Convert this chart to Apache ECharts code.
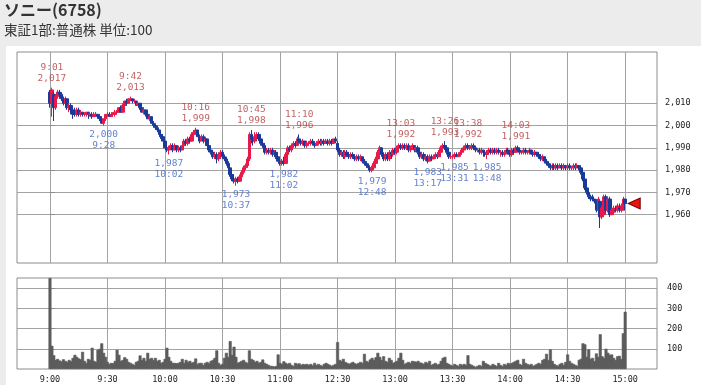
<!DOCTYPE html>
<html><head><meta charset="utf-8">
<script src="https://cdn.jsdelivr.net/npm/echarts@6/dist/echarts.min.js"></script>
<style>
html,body{margin:0;padding:0;background:#ececec;}
#bg{position:absolute;left:6px;top:46px;width:695px;height:339px;background:#fff;}
#c{position:absolute;left:0;top:0;width:701px;height:385px;}
</style>
</head><body><div id="bg"></div><div id="c"></div>
<script>
// ---- data (one entry per minute; index 0 = 9:00, 150 = 12:30, 300 = 15:00) ----
const opens = [2015,2010,2014,2008,2013,2015,2014,2012,2010,2012,2008,2009,2007,2006,2005,2007,2005,2006,2005,2005,2006,2005,2005,2004,2005,2005,2004,2003,2001,2003,
2005,2005,2004,2005,2005,2006,2006,2008,2006,2009,2011,2010,2012,2012,2011,2011,2009,2010,2008,2006,2007,2005,2003,2004,2001,2000,1999,1998,1996,1995,
1993,1990,1989,1990,1991,1989,1991,1989,1990,1989,1991,1993,1992,1994,1993,1996,1997,1998,1995,1993,1995,1993,1994,1991,1989,1988,1986,1987,1985,1987,
1988,1986,1985,1983,1981,1978,1976,1975,1976,1975,1977,1979,1981,1982,1985,1996,1994,1993,1995,1996,1994,1992,1991,1988,1989,1988,1989,1987,1988,1986,
1984,1983,1984,1983,1987,1990,1989,1991,1992,1991,1994,1993,1992,1993,1991,1992,1992,1993,1992,1991,1992,1993,1992,1993,1992,1993,1992,1993,1992,1994,
1992,1989,1987,1988,1986,1988,1987,1986,1987,1986,1985,1986,1985,1986,1984,1983,1982,1981,1980,1981,1983,1985,1988,1990,1987,1985,1987,1985,1988,1987,
1989,1988,1990,1991,1990,1991,1990,1991,1989,1990,1991,1989,1990,1988,1986,1987,1985,1986,1984,1986,1985,1986,1987,1986,1988,1990,1991,1990,1988,1986,
1986,1986,1987,1986,1987,1988,1989,1990,1991,1990,1990,1991,1990,1989,1989,1988,1989,1988,1987,1988,1989,1988,1989,1988,1989,1988,1988,1987,1988,1989,
1988,1987,1989,1988,1990,1989,1988,1988,1989,1988,1988,1989,1988,1987,1988,1987,1986,1985,1986,1984,1983,1982,1981,1982,1981,1982,1981,1982,1981,1982,
1981,1982,1981,1981,1982,1981,1982,1981,1979,1976,1972,1970,1968,1968,1967,1966,1962,1966,1959,1960,1968,1962,1967,1960,1961,1962,1962,1963,1962,1962,
1967];
const closes = [2010,2016,2008,2013,2015,2014,2012,2010,2012,2008,2009,2007,2005,2005,2007,2005,2006,2005,2005,2006,2005,2005,2004,2005,2005,2004,2003,2001,2003,2005,
2005,2004,2005,2005,2006,2006,2008,2006,2009,2011,2010,2012,2012,2011,2011,2009,2010,2008,2006,2007,2005,2003,2004,2001,2000,1999,1998,1996,1995,1993,
1990,1989,1990,1991,1989,1991,1989,1990,1989,1991,1993,1992,1994,1993,1996,1997,1998,1995,1993,1995,1993,1994,1991,1989,1988,1986,1987,1985,1987,1988,
1986,1985,1983,1981,1978,1976,1975,1976,1975,1977,1979,1981,1982,1985,1996,1994,1993,1995,1996,1994,1992,1991,1988,1989,1988,1989,1987,1988,1986,1984,
1983,1984,1983,1987,1990,1989,1991,1992,1991,1994,1993,1992,1993,1991,1992,1992,1993,1992,1991,1992,1993,1992,1993,1992,1993,1992,1993,1992,1994,1993,
1989,1987,1988,1986,1988,1987,1986,1987,1986,1985,1986,1985,1986,1984,1983,1982,1981,1980,1981,1983,1985,1988,1990,1987,1985,1987,1985,1988,1987,1989,
1988,1990,1991,1990,1991,1990,1991,1989,1990,1991,1989,1990,1988,1986,1987,1985,1986,1984,1986,1985,1986,1987,1986,1988,1990,1991,1990,1988,1986,1986,
1986,1987,1986,1987,1988,1989,1990,1991,1990,1990,1991,1990,1989,1989,1988,1989,1988,1987,1988,1989,1988,1989,1988,1989,1988,1988,1987,1988,1989,1988,
1987,1989,1988,1990,1989,1988,1988,1989,1988,1988,1989,1988,1987,1988,1987,1986,1985,1986,1984,1983,1982,1981,1982,1981,1982,1981,1982,1981,1982,1981,
1982,1981,1981,1982,1981,1982,1981,1979,1976,1972,1970,1968,1967,1967,1966,1962,1967,1959,1963,1968,1962,1967,1960,1962,1963,1962,1964,1962,1964,1967,
1965];
const lows = [2008,2004,2002,2007,2012,2012,2011,2009,2009,2007,2006,2005,2003,2004,2004,2004,2004,2004,2004,2004,2003,2004,2003,2004,2004,2003,2002,2001,2000,2002,
2004,2004,2004,2004,2004,2005,2006,2006,2006,2008,2009,2010,2011,2010,2010,2009,2009,2007,2006,2005,2004,2003,2002,2001,1999,1998,1997,1995,1994,1993,
1990,1988,1987,1989,1988,1989,1988,1988,1988,1989,1990,1991,1991,1992,1993,1995,1996,1995,1992,1993,1992,1992,1991,1988,1987,1985,1985,1983,1984,1985,
1985,1984,1982,1980,1977,1975,1974,1973,1974,1975,1976,1978,1980,1981,1984,1992,1991,1992,1994,1993,1991,1990,1987,1987,1987,1987,1986,1986,1985,1984,
1982,1982,1982,1983,1986,1988,1988,1990,1990,1991,1992,1991,1991,1990,1990,1991,1991,1991,1990,1991,1991,1991,1991,1991,1992,1991,1991,1991,1992,1992,
1988,1986,1986,1985,1985,1986,1985,1985,1985,1984,1984,1984,1984,1983,1982,1981,1980,1979,1979,1980,1982,1984,1987,1986,1984,1984,1984,1984,1985,1986,
1987,1987,1989,1989,1989,1989,1989,1988,1988,1989,1988,1988,1987,1985,1985,1984,1984,1983,1984,1984,1985,1985,1985,1986,1987,1989,1989,1987,1985,1985,
1985,1985,1986,1986,1986,1987,1988,1989,1989,1989,1989,1989,1988,1988,1987,1987,1986,1986,1985,1987,1987,1987,1987,1987,1987,1986,1986,1986,1987,1987,
1986,1986,1987,1988,1988,1987,1987,1987,1987,1987,1987,1987,1986,1986,1986,1985,1984,1984,1983,1982,1981,1980,1980,1980,1980,1980,1981,1980,1980,1980,
1980,1980,1980,1980,1980,1981,1980,1978,1975,1971,1969,1967,1966,1966,1965,1961,1961,1954,1958,1959,1961,1961,1959,1960,1960,1961,1961,1961,1961,1962,
1962];
const highs = [2016,2017,2015,2014,2016,2016,2015,2013,2013,2012,2010,2010,2008,2008,2008,2008,2007,2006,2006,2006,2006,2006,2006,2006,2006,2005,2005,2004,2003,2005,
2006,2006,2006,2006,2007,2007,2008,2009,2010,2011,2012,2012,2013,2012,2012,2011,2011,2010,2009,2008,2007,2006,2005,2004,2002,2001,2000,1998,1997,1996,
1994,1991,1991,1992,1992,1992,1991,1991,1991,1992,1994,1994,1995,1995,1997,1998,1999,1998,1996,1996,1996,1995,1994,1991,1990,1989,1988,1988,1988,1989,
1989,1987,1986,1984,1982,1979,1978,1977,1977,1978,1980,1982,1983,1986,1997,1998,1995,1997,1997,1997,1995,1993,1992,1990,1990,1990,1990,1989,1989,1987,
1985,1985,1986,1988,1991,1991,1992,1993,1993,1995,1996,1994,1994,1993,1993,1993,1994,1994,1993,1993,1994,1994,1994,1994,1994,1994,1994,1994,1994,1995,
1993,1990,1989,1989,1989,1989,1988,1988,1988,1987,1987,1987,1987,1986,1985,1984,1983,1982,1982,1984,1986,1989,1991,1990,1988,1988,1988,1989,1989,1990,
1990,1991,1992,1992,1992,1992,1992,1992,1991,1992,1991,1991,1991,1989,1988,1988,1987,1987,1987,1987,1987,1988,1988,1989,1991,1992,1993,1991,1989,1987,
1987,1988,1988,1988,1989,1990,1991,1992,1992,1991,1992,1992,1991,1990,1990,1990,1989,1989,1989,1990,1990,1990,1990,1990,1990,1989,1989,1989,1990,1990,
1989,1990,1990,1991,1991,1990,1989,1990,1990,1989,1990,1989,1989,1989,1988,1988,1987,1987,1986,1985,1984,1983,1983,1983,1983,1983,1983,1983,1983,1982,
1983,1983,1982,1983,1983,1983,1982,1982,1980,1977,1973,1971,1969,1969,1967,1967,1968,1966,1964,1969,1969,1968,1968,1963,1964,1964,1965,1965,1965,1968,
1967];
const volumes = [450,115,68,45,50,42,38,48,40,35,45,38,55,70,60,52,48,85,40,30,50,45,105,40,35,95,100,127,80,60,
35,25,30,28,40,95,70,40,45,58,50,35,30,25,20,35,40,67,45,55,40,80,50,55,45,55,40,45,30,35,
50,105,60,40,30,30,28,30,35,50,30,45,35,40,30,35,52,25,30,30,20,30,35,28,40,45,55,92,30,20,
25,55,80,60,138,70,110,60,30,35,40,45,35,30,92,50,45,35,40,30,35,47,30,25,20,15,15,12,15,72,
30,25,38,30,25,30,20,15,30,25,28,20,25,22,25,20,25,18,30,20,25,20,15,25,30,25,20,15,20,25,
133,45,40,50,35,30,25,30,35,28,25,30,35,30,75,40,35,47,55,45,58,80,60,45,63,40,35,55,45,30,
35,40,55,80,45,25,30,35,30,40,38,35,40,32,30,25,35,30,40,20,25,30,22,25,40,55,60,30,25,20,
15,25,20,15,25,20,25,20,68,25,20,15,10,15,20,15,40,30,25,20,15,25,20,15,30,20,15,25,20,30,
25,30,35,40,45,25,20,50,30,25,20,25,15,20,25,30,25,45,50,75,45,97,40,25,20,15,25,30,20,35,
72,40,30,25,20,15,45,50,127,122,60,97,50,55,40,77,60,172,63,55,100,80,70,72,55,45,63,65,50,177,
283];
const peakTimes = ['9:01','9:42','10:16','10:45','11:10','13:03','13:26','13:38','14:03'];
const peakVals = [2017,2013,1999,1998,1996,1992,1993,1992,1991];
const troughTimes = ['9:28','10:02','10:37','11:02','12:48','13:17','13:31','13:48'];
const troughVals = [2000,1987,1973,1982,1979,1983,1985,1985];
const timeTickLabels = ['9:00','9:30','10:00','10:30','11:00','12:30','13:00','13:30','14:00','14:30','15:00'];
const priceTicks = [1960,1970,1980,1990,2000,2010];
const volumeTicks = [100,200,300,400];
const lastPrice = 1965;

// ---- helpers ----
function toIdx(t){const p=t.split(':');const h=+p[0],m=+p[1];return h<12?(h-9)*60+m:150+(h-12)*60+m-30;}
function fmt(v){return String(v).replace(/\B(?=(\d{3})+(?!\d))/g,',');}
const tickIdx = timeTickLabels.map(toIdx);
const labelByIdx = {}; timeTickLabels.forEach((t,i)=>labelByIdx[tickIdx[i]]=t);

const candleData = opens.map((o,i)=>[i,o,closes[i],lows[i],highs[i]]);
const volData = volumes.map((v,i)=>[i,v]);
const GRID='#a3a3a3', BORDER='#8c8c8c';
const xCommon = {type:'value', min:-17.2, max:316.6, axisLine:{show:false},
  axisTick:{show:false, customValues:tickIdx}, splitLine:{show:true, lineStyle:{color:GRID,width:1}}};

const chart = echarts.init(document.getElementById('c'), null, {renderer:'canvas'});
chart.setOption({
  animation:false,
  backgroundColor:'transparent',
  graphic:[
    {type:'text', left:4, top:2, style:{text:'ソニー(6758)', font:'bold 16px "Noto Sans CJK JP"', fill:'#333'}},
    {type:'text', left:4, top:23, style:{text:'東証1部:普通株 単位:100', font:'13.5px "Noto Sans CJK JP"', fill:'#333'}}
  ],
  grid:[
    {left:17, top:52, width:640, height:211, show:true, backgroundColor:'#fff', borderColor:BORDER, borderWidth:1},
    {left:17, top:278, width:640, height:91, show:true, backgroundColor:'#fff', borderColor:BORDER, borderWidth:1}
  ],
  xAxis:[
    Object.assign({gridIndex:0, axisLabel:{show:false, customValues:tickIdx}}, xCommon),
    Object.assign({gridIndex:1, axisLabel:{show:true, customValues:tickIdx, margin:6, color:'#222',
      fontFamily:'DejaVu Sans Mono', fontSize:8.5, formatter:v=>labelByIdx[Math.round(v)]||''}}, xCommon)
  ],
  yAxis:[
    {gridIndex:0, type:'value', position:'right', min:1938.3, max:2033, axisLine:{show:false},
     axisTick:{show:true, length:5, customValues:priceTicks, lineStyle:{color:BORDER}},
     axisLabel:{customValues:priceTicks, margin:8, color:'#222', fontFamily:'DejaVu Sans Mono', fontSize:8.5, formatter:fmt},
     splitLine:{show:true, lineStyle:{color:GRID,width:1}}},
    {gridIndex:1, type:'value', position:'right', min:0, max:450, axisLine:{show:false},
     axisTick:{show:true, length:5, customValues:volumeTicks, lineStyle:{color:BORDER}},
     axisLabel:{customValues:volumeTicks, margin:10, color:'#222', fontFamily:'DejaVu Sans Mono', fontSize:8.5, formatter:fmt},
     splitLine:{show:true, lineStyle:{color:GRID,width:1}}}
  ],
  series:[
    {type:'candlestick', xAxisIndex:0, yAxisIndex:0, data:candleData, encode:{x:0,y:[1,2,3,4]},
     barWidth:3,
     itemStyle:{color:'#e8194a', color0:'#1a3a9a', borderColor:'#e8194a', borderColor0:'#1a3a9a', borderWidth:1},
     markPoint:{silent:true, data:[{coord:[opens.length-1,lastPrice], symbol:'path://M0,5L10,0L10,10Z',
       symbolSize:[12,11], symbolOffset:[9,0], itemStyle:{color:'#ee1111', borderColor:'#700', borderWidth:1}, label:{show:false}}]}},
    {type:'scatter', xAxisIndex:0, yAxisIndex:0, symbolSize:1, itemStyle:{color:'rgba(0,0,0,0)'},
     data:peakTimes.map((t,i)=>[toIdx(t),peakVals[i]]),
     label:{show:true, position:'top', distance:3, color:'#b23a3a', fontFamily:'DejaVu Sans Mono', fontSize:9.5, lineHeight:11,
       formatter:p=>peakTimes[p.dataIndex]+'\n'+fmt(peakVals[p.dataIndex])}},
    {type:'scatter', xAxisIndex:0, yAxisIndex:0, symbolSize:1, itemStyle:{color:'rgba(0,0,0,0)'},
     data:troughTimes.map((t,i)=>[toIdx(t),troughVals[i]]),
     label:{show:true, position:'bottom', distance:3, color:'#3b62c4', fontFamily:'DejaVu Sans Mono', fontSize:9.5, lineHeight:11,
       formatter:p=>fmt(troughVals[p.dataIndex])+'\n'+troughTimes[p.dataIndex]}},
    {type:'bar', xAxisIndex:1, yAxisIndex:1, data:volData, barWidth:3, barMinWidth:3, barMaxWidth:3,
     itemStyle:{color:'#5c5c5c', borderColor:'#5c5c5c', borderWidth:0.6}}
  ]
});
</script>
</body></html>
